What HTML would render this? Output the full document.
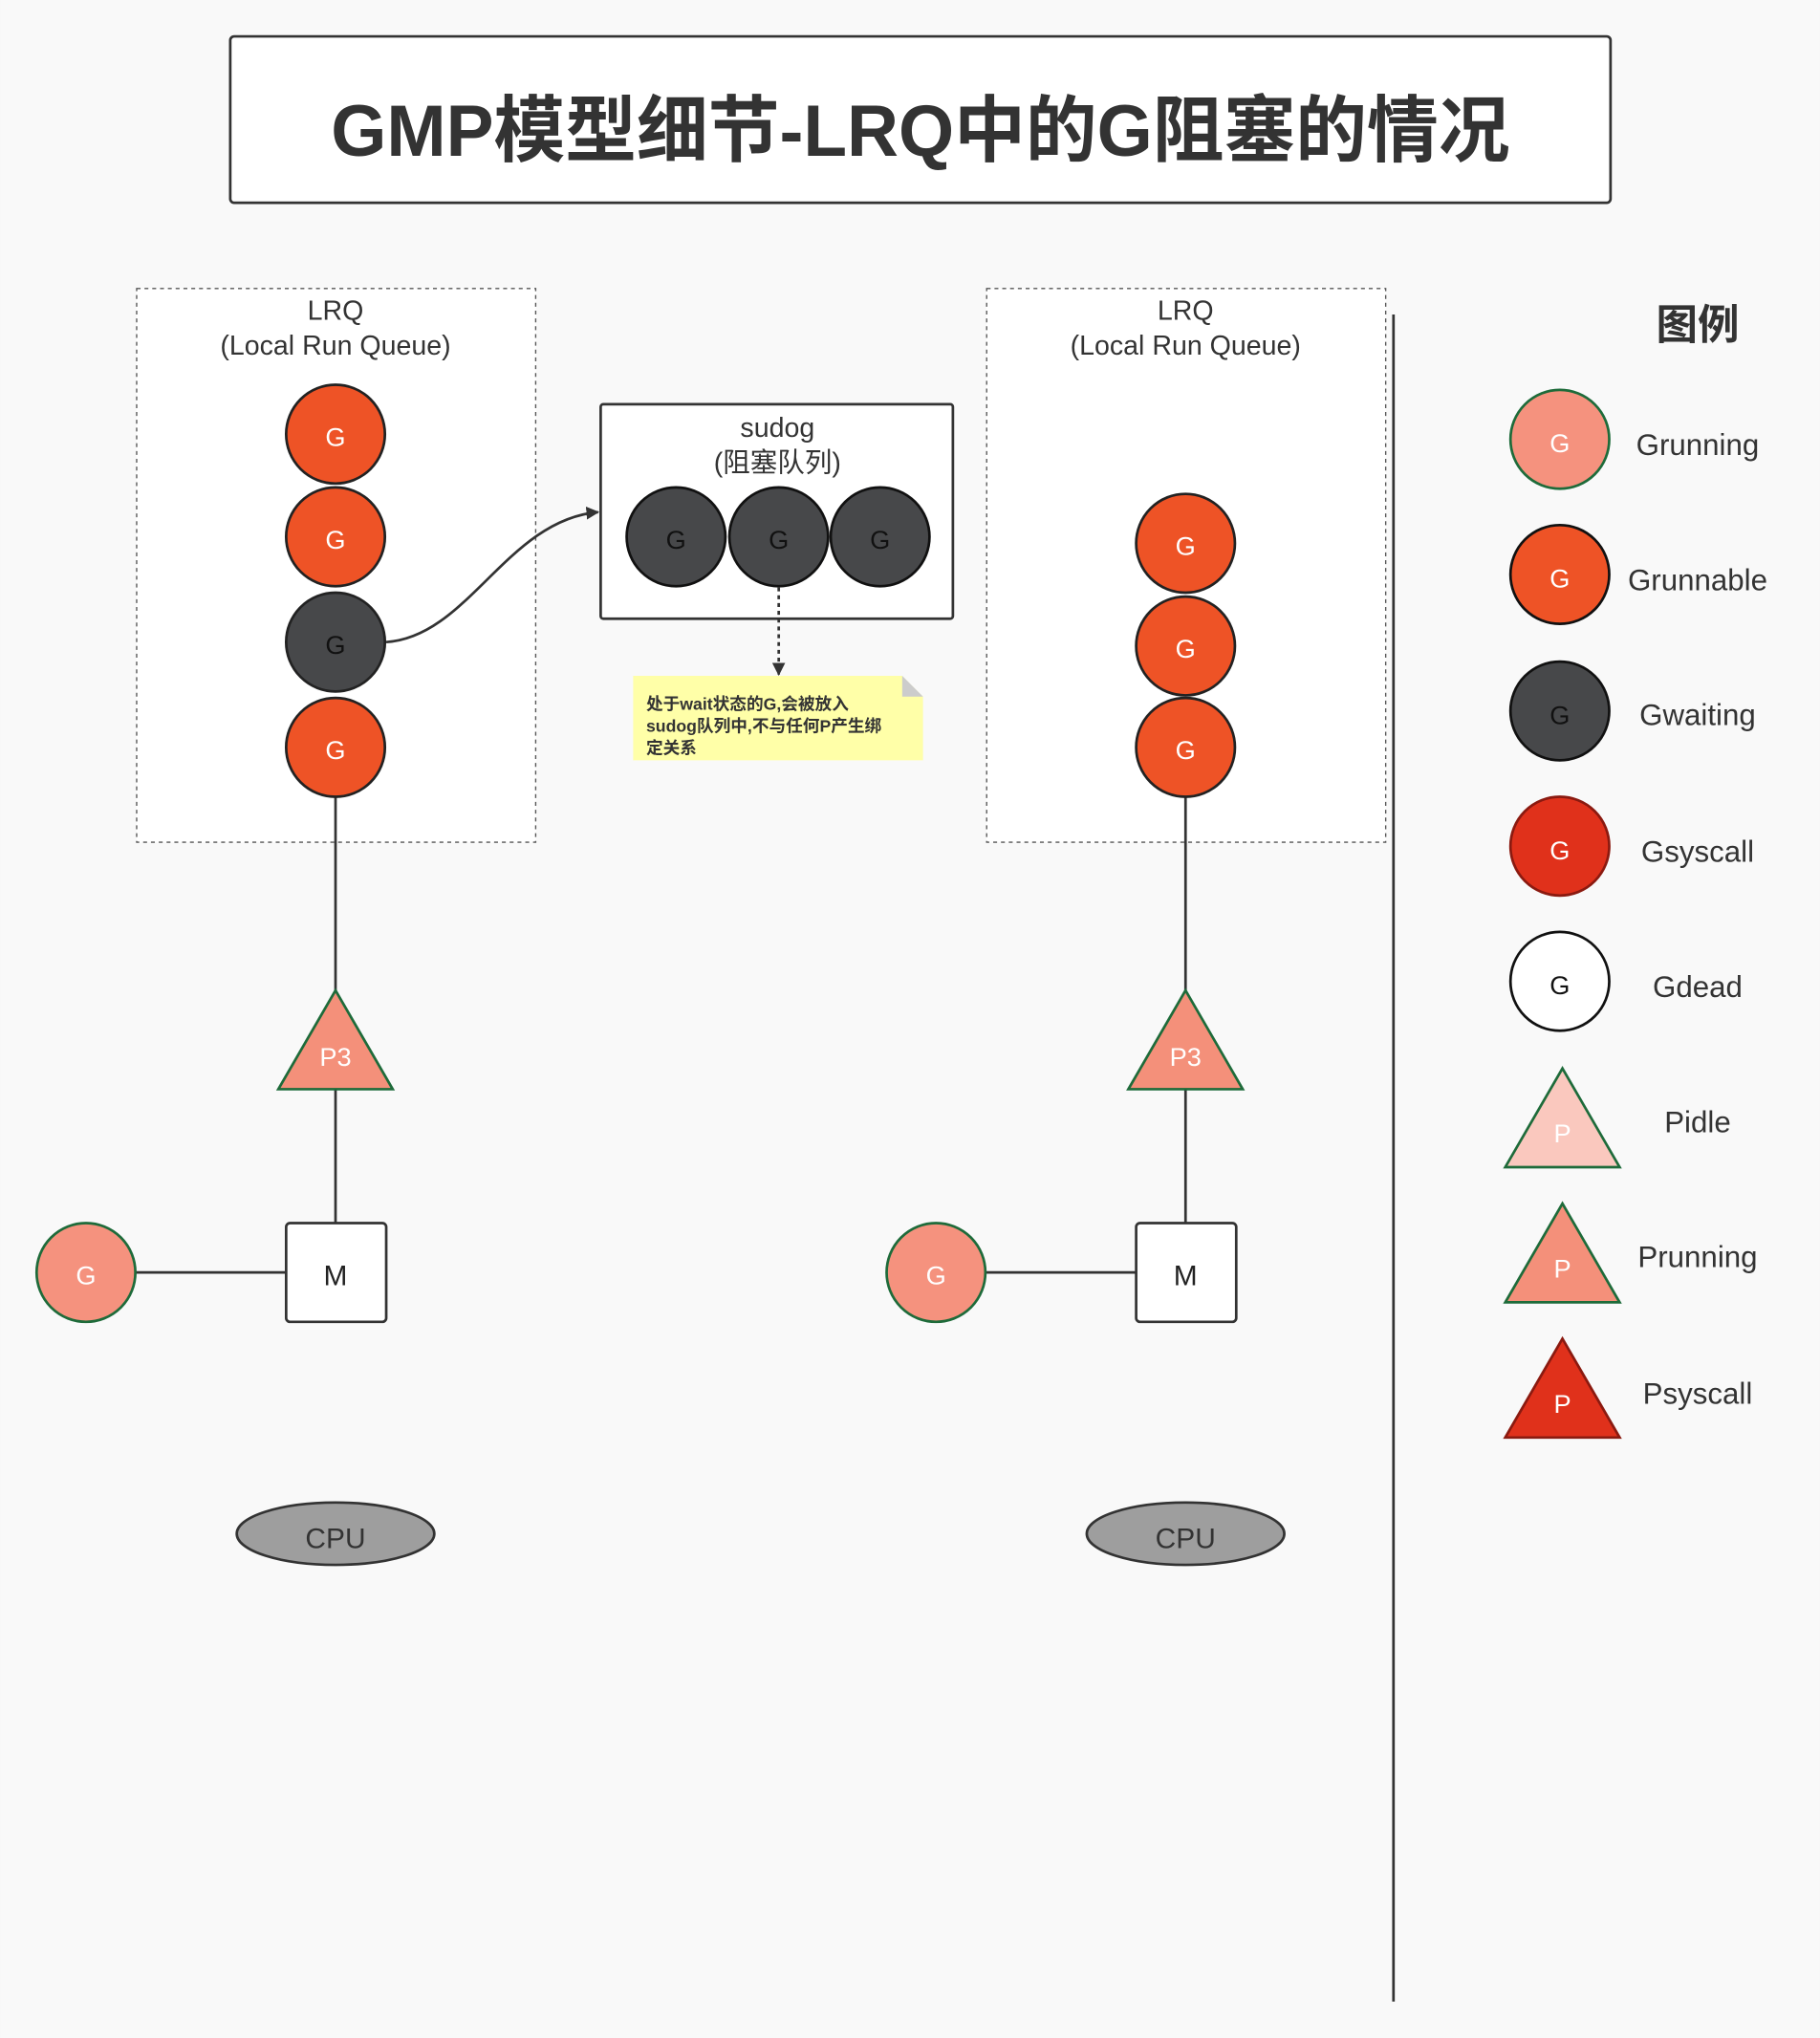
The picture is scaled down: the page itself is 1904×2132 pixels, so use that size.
<!DOCTYPE html>
<html><head><meta charset="utf-8"><style>
html,body{margin:0;padding:0;background:#f9f9f9}
svg{display:block}
text{font-family:"Liberation Sans","Noto Sans CJK SC",sans-serif;text-anchor:middle}
</style></head><body>
<svg width="1904" height="2132" viewBox="0 0 1400 1568" xmlns="http://www.w3.org/2000/svg">
<defs><marker id="a" markerWidth="10" markerHeight="10" refX="9" refY="5" orient="auto" markerUnits="userSpaceOnUse"><path d="M0,0 L10,5 L0,10 z" fill="#333"/></marker></defs>
<rect width="1400" height="1568" fill="#f9f9f9"/>
<rect x="177" y="28" width="1062" height="128" rx="3" fill="#fff" stroke="#333" stroke-width="2"/>
<text x="708" y="120" font-size="56" font-weight="bold" fill="#333" textLength="907" lengthAdjust="spacingAndGlyphs">GMP模型细节-LRQ中的G阻塞的情况</text>

<g id="left">
<rect x="105" y="222" width="307" height="426" fill="#fff" stroke="#555" stroke-dasharray="3,3"/>
<text x="258" y="246" font-size="21" fill="#333">LRQ</text>
<text x="258" y="273" font-size="21" fill="#333">(Local Run Queue)</text>
<line x1="258" y1="613" x2="258" y2="762" stroke="#333" stroke-width="2"/>
<line x1="258" y1="838" x2="258" y2="941" stroke="#333" stroke-width="2"/>
<line x1="104" y1="979" x2="220" y2="979" stroke="#333" stroke-width="2"/>
<g stroke="#222" stroke-width="2">
<circle cx="258" cy="334" r="38" fill="#EE5326"/>
<circle cx="258" cy="413" r="38" fill="#EE5326"/>
<circle cx="258" cy="494" r="38" fill="#47484A"/>
<circle cx="258" cy="575" r="38" fill="#EE5326"/>
</g>
<g font-size="20" fill="#fff"><text x="258" y="343">G</text><text x="258" y="422">G</text><text x="258" y="503" fill="#111">G</text><text x="258" y="584">G</text></g>
<polygon points="258,762 214,838 302,838" fill="#F4907A" stroke="#1E6B3A" stroke-width="2"/>
<text x="258" y="820" font-size="20" fill="#fff">P3</text>
<rect x="220" y="941" width="77" height="76" rx="3" fill="#fff" stroke="#333" stroke-width="2"/>
<text x="258" y="989" font-size="22" fill="#222">M</text>
<circle cx="66" cy="979" r="38" fill="#F5927E" stroke="#1E6B3A" stroke-width="2"/>
<text x="66" y="988" font-size="20" fill="#fff">G</text>
<ellipse cx="258" cy="1180" rx="76" ry="24" fill="#9E9E9E" stroke="#333" stroke-width="2"/>
<text x="258" y="1191" font-size="22" fill="#333">CPU</text>
</g>

<rect x="462" y="311" width="271" height="165" rx="2" fill="#fff" stroke="#333" stroke-width="2"/>
<text x="598" y="336" font-size="21" fill="#333">sudog</text>
<text x="598" y="363" font-size="21" fill="#333">(阻塞队列)</text>
<g stroke="#111" stroke-width="2" fill="#47484A">
<circle cx="520" cy="413" r="38"/><circle cx="599" cy="413" r="38"/><circle cx="677" cy="413" r="38"/>
</g>
<g font-size="20" fill="#111"><text x="520" y="422">G</text><text x="599" y="422">G</text><text x="677" y="422">G</text></g>
<path d="M297,494 C360,490 390,400 460,394" fill="none" stroke="#333" stroke-width="2" marker-end="url(#a)"/>
<line x1="599" y1="452" x2="599" y2="519" stroke="#333" stroke-width="2" stroke-dasharray="3,3" marker-end="url(#a)"/>
<path d="M487,520 L694,520 L710,536 L710,585 L487,585 z" fill="#FFFFA8"/>
<path d="M694,520 L710,536 L694,536 z" fill="#ccc"/>
<g font-size="13" fill="#333" font-weight="bold"><text x="497" y="546" style="text-anchor:start">处于wait状态的G,会被放入</text><text x="497" y="563" style="text-anchor:start">sudog队列中,不与任何P产生绑</text><text x="497" y="580" style="text-anchor:start">定关系</text></g>

<g id="right">
<rect x="759" y="222" width="307" height="426" fill="#fff" stroke="#555" stroke-dasharray="3,3"/>
<text x="912" y="246" font-size="21" fill="#333">LRQ</text>
<text x="912" y="273" font-size="21" fill="#333">(Local Run Queue)</text>
<line x1="912" y1="613" x2="912" y2="762" stroke="#333" stroke-width="2"/>
<line x1="912" y1="838" x2="912" y2="941" stroke="#333" stroke-width="2"/>
<line x1="758" y1="979" x2="874" y2="979" stroke="#333" stroke-width="2"/>
<g stroke="#222" stroke-width="2" fill="#EE5326">
<circle cx="912" cy="418" r="38"/><circle cx="912" cy="497" r="38"/><circle cx="912" cy="575" r="38"/>
</g>
<g font-size="20" fill="#fff"><text x="912" y="427">G</text><text x="912" y="506">G</text><text x="912" y="584">G</text></g>
<polygon points="912,762 868,838 956,838" fill="#F4907A" stroke="#1E6B3A" stroke-width="2"/>
<text x="912" y="820" font-size="20" fill="#fff">P3</text>
<rect x="874" y="941" width="77" height="76" rx="3" fill="#fff" stroke="#333" stroke-width="2"/>
<text x="912" y="989" font-size="22" fill="#222">M</text>
<circle cx="720" cy="979" r="38" fill="#F5927E" stroke="#1E6B3A" stroke-width="2"/>
<text x="720" y="988" font-size="20" fill="#fff">G</text>
<ellipse cx="912" cy="1180" rx="76" ry="24" fill="#9E9E9E" stroke="#333" stroke-width="2"/>
<text x="912" y="1191" font-size="22" fill="#333">CPU</text>
</g>

<line x1="1072" y1="242" x2="1072" y2="1540" stroke="#333" stroke-width="2"/>
<text x="1306" y="261" font-size="32" font-weight="bold" fill="#333">图例</text>
<circle cx="1200" cy="338" r="38" fill="#F5927E" stroke="#1E6B3A" stroke-width="2"/>
<circle cx="1200" cy="442" r="38" fill="#EE5326" stroke="#111" stroke-width="2"/>
<circle cx="1200" cy="547" r="38" fill="#47484A" stroke="#111" stroke-width="2"/>
<circle cx="1200" cy="651" r="38" fill="#E0311B" stroke="#8b1a10" stroke-width="2"/>
<circle cx="1200" cy="755" r="38" fill="#fff" stroke="#111" stroke-width="2"/>
<g font-size="20"><text x="1200" y="348" fill="#fff">G</text><text x="1200" y="452" fill="#fff">G</text><text x="1200" y="557" fill="#111">G</text><text x="1200" y="661" fill="#fff">G</text><text x="1200" y="765" fill="#111">G</text></g>
<polygon points="1202,822 1158,898 1246,898" fill="#FAC8BE" stroke="#1E6B3A" stroke-width="2"/>
<polygon points="1202,926 1158,1002 1246,1002" fill="#F4907A" stroke="#1E6B3A" stroke-width="2"/>
<polygon points="1202,1030 1158,1106 1246,1106" fill="#E0311B" stroke="#8b1a10" stroke-width="2"/>
<g font-size="20" fill="#fff"><text x="1202" y="879">P</text><text x="1202" y="983">P</text><text x="1202" y="1087">P</text></g>
<g font-size="23" fill="#333">
<text x="1306" y="350">Grunning</text><text x="1306" y="454">Grunnable</text><text x="1306" y="558">Gwaiting</text><text x="1306" y="663">Gsyscall</text><text x="1306" y="767">Gdead</text><text x="1306" y="871">Pidle</text><text x="1306" y="975">Prunning</text><text x="1306" y="1080">Psyscall</text>
</g>
</svg>
</body></html>
